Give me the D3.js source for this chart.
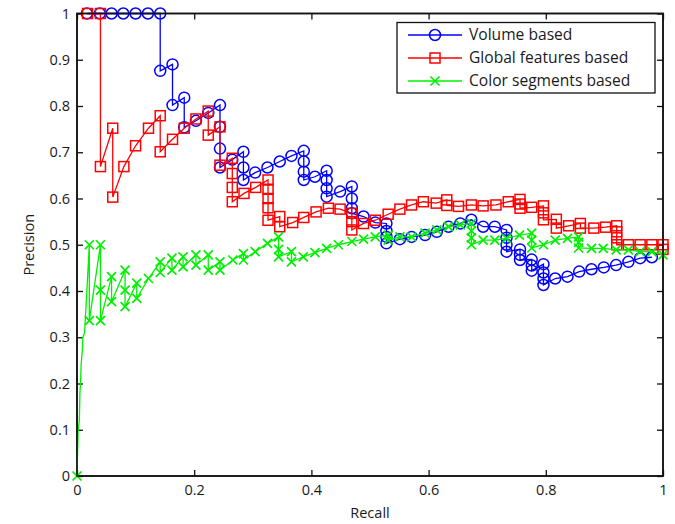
<!DOCTYPE html>
<html>
<head>
<meta charset="utf-8">
<script src="https://cdn.jsdelivr.net/npm/d3@7"></script>
<style>
  html, body { margin: 0; padding: 0; background: #fff; }
  svg { display: block; }
  text { font-family: "Open Sans", "DejaVu Sans", sans-serif; fill: #1a1a1a; }
</style>
</head>
<body>
<svg id="chart" width="675" height="524"></svg>
<script>
// Precision / recall curves for the three retrieval methods.
const seriesNames = ["Volume based", "Global features based", "Color segments based"];

const volumeRecall = [0.017,0.039,0.059,0.079,0.100,0.121,0.142,0.142,0.163,0.163,0.183,0.183,0.203,0.224,0.244,0.244,0.244,0.244,
  0.265,0.284,0.284,0.284,0.304,0.325,0.346,0.366,0.387,0.387,0.387,0.387,0.406,0.426,0.426,0.426,0.426,0.449,0.469,0.469,0.469,0.469,
  0.489,0.509,0.528,0.528,0.528,0.528,0.551,0.571,0.594,0.614,0.634,0.654,0.673,0.693,0.713,0.733,0.733,0.733,0.733,
  0.756,0.756,0.756,0.776,0.776,0.776,0.796,0.796,0.796,0.796,0.816,0.837,0.857,0.878,0.899,0.920,0.941,0.961,0.981];
const volumePrecision = [1,1,1,1,1,1,1,0.876,0.890,0.802,0.818,0.754,0.768,0.785,0.802,0.755,0.708,0.667,
  0.684,0.701,0.667,0.640,0.656,0.667,0.680,0.692,0.703,0.680,0.658,0.640,0.647,0.660,0.640,0.622,0.604,0.615,0.626,0.600,0.579,0.568,
  0.561,0.548,0.546,0.530,0.517,0.503,0.512,0.517,0.521,0.528,0.539,0.546,0.554,0.539,0.539,0.532,0.515,0.500,0.485,
  0.490,0.478,0.467,0.468,0.455,0.444,0.458,0.440,0.427,0.413,0.427,0.431,0.442,0.447,0.451,0.456,0.463,0.471,0.473];

const globalRecall = [0.018,0.040,0.040,0.061,0.061,0.080,0.100,0.122,0.142,0.142,0.163,0.183,0.203,0.224,0.224,0.244,0.244,
  0.265,0.265,0.265,0.265,0.285,0.305,0.326,0.326,0.326,0.326,0.326,0.346,0.346,0.368,0.387,0.408,0.429,0.449,0.469,0.469,0.469,
  0.489,0.509,0.531,0.551,0.571,0.591,0.613,0.631,0.631,0.651,0.673,0.693,0.715,0.736,0.756,0.756,0.756,0.776,0.796,0.796,0.796,
  0.818,0.818,0.839,0.859,0.859,0.882,0.902,0.921,0.921,0.921,0.921,0.941,0.961,0.981,1.000,1.000];
const globalPrecision = [1,1,0.669,0.752,0.603,0.669,0.714,0.752,0.779,0.701,0.728,0.752,0.772,0.789,0.737,0.755,0.672,
  0.687,0.654,0.624,0.593,0.611,0.624,0.640,0.620,0.600,0.580,0.553,0.561,0.539,0.548,0.559,0.571,0.579,0.577,0.568,0.550,0.532,
  0.546,0.553,0.566,0.577,0.586,0.593,0.590,0.597,0.585,0.583,0.586,0.584,0.586,0.593,0.598,0.588,0.579,0.581,0.584,0.569,0.554,
  0.555,0.536,0.541,0.546,0.536,0.536,0.538,0.541,0.528,0.515,0.500,0.500,0.500,0.500,0.500,0.490];

// leading run of the colour-segment curve, drawn as line only
const colorRampRecall = [0,0.001,0.002,0.004,0.005,0.006,0.007,0.009,0.010,0.013,0.016,0.021];
const colorRampPrecision = [0,0.05,0.10,0.12,0.18,0.20,0.24,0.27,0.30,0.31,0.38,0.50];

const colorRecall = [0.021,0.021,0.040,0.040,0.040,0.059,0.059,0.082,0.082,0.082,0.102,0.102,0.122,0.142,0.142,0.162,0.162,
  0.181,0.181,0.203,0.203,0.224,0.224,0.244,0.244,0.266,0.284,0.284,0.304,0.325,0.344,0.344,0.344,0.366,0.366,0.386,0.406,0.426,
  0.446,0.469,0.489,0.509,0.531,0.531,0.551,0.571,0.594,0.614,0.634,0.654,0.673,0.673,0.673,0.673,0.693,0.713,0.733,0.755,
  0.776,0.776,0.776,0.796,0.816,0.837,0.856,0.856,0.856,0.878,0.898,0.920,0.941,0.961,0.981,1.000];
const colorPrecision = [0.500,0.336,0.500,0.402,0.336,0.431,0.377,0.445,0.402,0.366,0.417,0.384,0.427,0.463,0.440,0.471,0.445,
  0.474,0.452,0.478,0.456,0.478,0.445,0.463,0.445,0.467,0.481,0.467,0.485,0.503,0.517,0.490,0.474,0.485,0.463,0.474,0.483,0.492,
  0.500,0.507,0.512,0.517,0.521,0.510,0.517,0.517,0.525,0.532,0.539,0.543,0.546,0.530,0.515,0.500,0.510,0.510,0.514,0.521,
  0.525,0.510,0.493,0.500,0.510,0.514,0.517,0.505,0.493,0.492,0.492,0.489,0.489,0.485,0.485,0.478];

const xTicks = [0, 0.2, 0.4, 0.6, 0.8, 1];
const xTickLabels = ["0", "0.2", "0.4", "0.6", "0.8", "1"];
const yTicks = [0, 0.1, 0.2, 0.3, 0.4, 0.5, 0.6, 0.7, 0.8, 0.9, 1];
const yTickLabels = ["0", "0.1", "0.2", "0.3", "0.4", "0.5", "0.6", "0.7", "0.8", "0.9", "1"];

const zip = (a, b) => a.map((v, i) => [v, b[i]]);
const series = [
  { name: seriesNames[0], color: "#0000ff", marker: "circle", pts: zip(volumeRecall, volumePrecision), lead: [] },
  { name: seriesNames[1], color: "#ff0000", marker: "square", pts: zip(globalRecall, globalPrecision), lead: [] },
  { name: seriesNames[2], color: "#00f000", marker: "cross", pts: zip(colorRecall, colorPrecision),
    lead: zip(colorRampRecall, colorRampPrecision) }
];

const svg = d3.select("#chart");
const plotL = 77, plotR = 663, plotT = 13.5, plotB = 476;
const x = d3.scaleLinear().domain([0, 1]).range([plotL, plotR]);
const y = d3.scaleLinear().domain([0, 1]).range([plotB, plotT]);

// frame
svg.append("rect").attr("x", plotL).attr("y", plotT).attr("width", plotR - plotL).attr("height", plotB - plotT)
  .attr("fill", "#fff").attr("stroke", "#111").attr("stroke-width", 1.5);

const axisStyle = g => {
  g.select(".domain").remove();
  g.selectAll(".tick line").attr("stroke", "#111").attr("stroke-width", 1.3);
  g.selectAll("text").style("font-size", "14.5px").attr("fill", "#1a1a1a");
};

svg.append("g").attr("transform", `translate(0,${plotB})`)
  .call(d3.axisBottom(x).tickValues(xTicks).tickFormat((d, i) => xTickLabels[i]).tickSizeInner(-6).tickSizeOuter(0).tickPadding(9))
  .call(axisStyle);
svg.append("g").attr("transform", `translate(0,${plotT})`)
  .call(d3.axisTop(x).tickValues(xTicks).tickFormat("").tickSizeInner(-6).tickSizeOuter(0))
  .call(axisStyle);
svg.append("g").attr("transform", `translate(${plotL},0)`)
  .call(d3.axisLeft(y).tickValues(yTicks).tickFormat((d, i) => yTickLabels[i]).tickSizeInner(-6).tickSizeOuter(0).tickPadding(7))
  .call(axisStyle);
svg.append("g").attr("transform", `translate(${plotR},0)`)
  .call(d3.axisRight(y).tickValues(yTicks).tickFormat("").tickSizeInner(-6).tickSizeOuter(0))
  .call(axisStyle);

svg.append("text").attr("x", (plotL + plotR) / 2).attr("y", 518).attr("text-anchor", "middle")
  .style("font-size", "14.5px").text("Recall");
svg.append("text").attr("transform", `translate(34,${(plotT + plotB) / 2}) rotate(-90)`).attr("text-anchor", "middle")
  .style("font-size", "14.5px").text("Precision");

// marker glyphs
function drawMarker(g, kind, color, cx, cy) {
  if (kind === "circle") {
    g.append("circle").attr("cx", cx).attr("cy", cy).attr("r", 5.5)
      .attr("fill", "none").attr("stroke", color).attr("stroke-width", 1.5);
  } else if (kind === "square") {
    g.append("rect").attr("x", cx - 5).attr("y", cy - 5).attr("width", 10).attr("height", 10)
      .attr("fill", "none").attr("stroke", color).attr("stroke-width", 1.5);
  } else {
    const s = 4.5;
    g.append("path").attr("d", `M${cx - s},${cy - s}L${cx + s},${cy + s}M${cx - s},${cy + s}L${cx + s},${cy - s}`)
      .attr("stroke", color).attr("stroke-width", 1.7).attr("fill", "none");
  }
}

const line = d3.line().x(d => x(d[0])).y(d => y(d[1]));
const plot = svg.append("g");
series.forEach(s => {
  const all = s.lead.length ? s.lead.concat(s.pts) : s.pts;
  plot.append("path").attr("d", line(all)).attr("fill", "none")
    .attr("stroke", s.color).attr("stroke-width", 1.3);
  const mg = plot.append("g");
  if (s.lead.length) drawMarker(mg, s.marker, s.color, x(s.lead[0][0]), y(s.lead[0][1]));
  s.pts.forEach(p => drawMarker(mg, s.marker, s.color, x(p[0]), y(p[1])));
});

// redraw frame edges over the marks
svg.append("rect").attr("x", plotL).attr("y", plotT).attr("width", plotR - plotL).attr("height", plotB - plotT)
  .attr("fill", "none").attr("stroke", "#111").attr("stroke-width", 1.5);

// legend
const lg = svg.append("g");
lg.append("rect").attr("x", 397).attr("y", 22.5).attr("width", 258).attr("height", 70.5)
  .attr("fill", "#fff").attr("stroke", "#111").attr("stroke-width", 1.3);
series.forEach((s, i) => {
  const ly = 35 + i * 23;
  lg.append("line").attr("x1", 408).attr("x2", 462).attr("y1", ly).attr("y2", ly)
    .attr("stroke", s.color).attr("stroke-width", 1.3);
  drawMarker(lg, s.marker, s.color, 435, ly);
  lg.append("text").attr("x", 469).attr("y", ly).attr("dy", "0.35em")
    .style("font-size", "15.6px").text(s.name);
});
</script>
</body>
</html>
